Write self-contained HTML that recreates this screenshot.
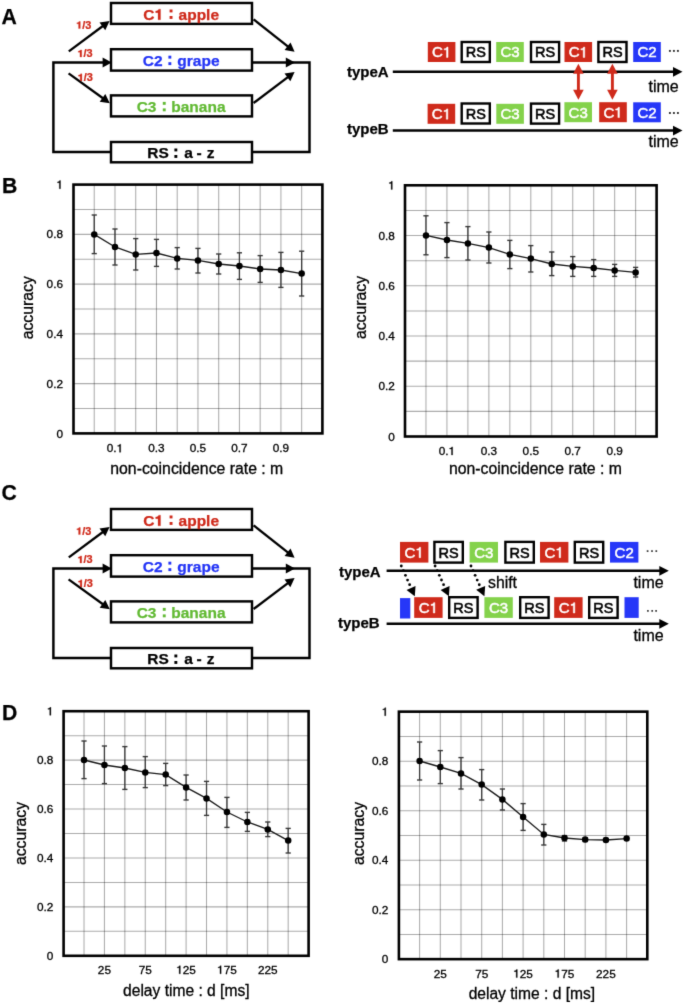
<!DOCTYPE html>
<html><head><meta charset="utf-8"><style>
html,body{margin:0;padding:0;background:#fff;}
svg{display:block;font-family:"Liberation Sans", sans-serif;will-change:transform;}
.wrap{width:685px;height:1004px;}
</style></head><body><div class="wrap">
<svg width="685" height="1004" viewBox="0 0 685 1004">
<defs><filter id="sb" color-interpolation-filters="sRGB" x="0" y="0" width="685" height="1004" filterUnits="userSpaceOnUse"><feConvolveMatrix order="3" kernelMatrix="0.01134 0.08382 0.01134 0.08382 0.61935 0.08382 0.01134 0.08382 0.01134" divisor="1" edgeMode="duplicate" preserveAlpha="false"/></filter></defs>
<rect width="685" height="1004" fill="#fff"/><g filter="url(#sb)">
<text x="1.5" y="24.3" font-weight="bold" font-size="21.2" fill="#000" stroke="#000" stroke-width="0.25">A</text>
<text x="1.9" y="193.4" font-weight="bold" font-size="21.2" fill="#000" stroke="#000" stroke-width="0.25">B</text>
<text x="1.6" y="500.1" font-weight="bold" font-size="21.2" fill="#000" stroke="#000" stroke-width="0.25">C</text>
<text x="1.9" y="719.5" font-weight="bold" font-size="21.2" fill="#000" stroke="#000" stroke-width="0.25">D</text>
<polyline points="111,151.9 53.4,151.9 53.4,62.5 106,62.5" fill="none" stroke="#000" stroke-width="2.45"/>
<polygon points="111.80,62.50 102.60,67.60 102.60,57.40" fill="#000"/>
<polyline points="252,62.5 309.5,62.5 309.5,151.9 252,151.9" fill="none" stroke="#000" stroke-width="2.45"/>
<polygon points="295.00,62.50 285.80,67.60 285.80,57.40" fill="#000"/>
<line x1="68.80" y1="51.40" x2="104.55" y2="24.76" stroke="#000" stroke-width="2.3"/><polygon points="109.60,21.00 105.25,30.23 99.52,22.53" fill="#000"/>
<line x1="68.60" y1="73.40" x2="104.70" y2="99.51" stroke="#000" stroke-width="2.3"/><polygon points="109.80,103.20 99.69,101.81 105.32,94.04" fill="#000"/>
<line x1="253.60" y1="19.40" x2="289.66" y2="47.89" stroke="#000" stroke-width="2.3"/><polygon points="294.60,51.80 284.56,49.99 290.51,42.45" fill="#000"/>
<line x1="253.60" y1="103.00" x2="289.57" y2="75.80" stroke="#000" stroke-width="2.3"/><polygon points="294.60,72.00 290.32,81.26 284.53,73.60" fill="#000"/>
<rect x="111" y="3.0" width="141" height="20.9" fill="#fff" stroke="#000" stroke-width="2.45"/>
<text x="143.36" y="19.80" font-size="15.5" font-weight="bold" fill="#cf2a1b" stroke="#cf2a1b" stroke-width="0.25">C</text><polygon points="158.05,19.80 160.53,19.80 160.53,9.14 158.74,9.14 158.36,10.04 157.50,10.58 156.42,10.89 155.64,10.97 155.64,12.67 158.05,12.67" fill="#cf2a1b" stroke="#cf2a1b" stroke-width="0.25" stroke-linejoin="round"/>
<text x="178.55" y="19.8" font-weight="bold" font-size="15.5" fill="#cf2a1b" stroke="#cf2a1b" stroke-width="0.25">apple</text>
<rect x="169.6" y="9.5" width="2.9" height="2.9" fill="#cf2a1b"/>
<rect x="169.6" y="16.0" width="2.9" height="2.9" fill="#cf2a1b"/>
<rect x="111" y="49.2" width="141" height="21.4" fill="#fff" stroke="#000" stroke-width="2.45"/>
<text x="142.86" y="65.5" font-weight="bold" font-size="15.5" fill="#2435f6" stroke="#2435f6" stroke-width="0.25">C2</text>
<text x="177.36" y="65.5" font-weight="bold" font-size="15.5" fill="#2435f6" stroke="#2435f6" stroke-width="0.25">grape</text>
<rect x="168.4" y="55.7" width="2.9" height="2.9" fill="#2435f6"/>
<rect x="168.4" y="62.2" width="2.9" height="2.9" fill="#2435f6"/>
<rect x="111" y="95.4" width="141" height="21.0" fill="#fff" stroke="#000" stroke-width="2.45"/>
<text x="136.66" y="111.5" font-weight="bold" font-size="15.5" fill="#62ba34" stroke="#62ba34" stroke-width="0.25">C3</text>
<text x="171.28" y="111.5" font-weight="bold" font-size="15.5" fill="#62ba34" stroke="#62ba34" stroke-width="0.25">banana</text>
<rect x="162.8" y="101.9" width="2.9" height="2.9" fill="#62ba34"/>
<rect x="162.8" y="108.4" width="2.9" height="2.9" fill="#62ba34"/>
<rect x="111" y="142.0" width="141" height="20.3" fill="#fff" stroke="#000" stroke-width="2.45"/>
<text x="147.36" y="158.3" font-weight="bold" font-size="15.5" fill="#000" stroke="#000" stroke-width="0.25">RS</text>
<text x="184.15" y="158.3" font-weight="bold" font-size="15.5" fill="#000" stroke="#000" stroke-width="0.25">a</text>
<text x="196.40" y="158.3" font-weight="bold" font-size="15.5" fill="#000" stroke="#000" stroke-width="0.25">-</text>
<text x="206.68" y="158.3" font-weight="bold" font-size="15.5" fill="#000" stroke="#000" stroke-width="0.25">z</text>
<rect x="174.4" y="148.5" width="2.9" height="2.9" fill="#000"/>
<rect x="174.4" y="155.0" width="2.9" height="2.9" fill="#000"/>
<g transform="translate(76.10,28.60) scale(1.063,1)"><polygon points="2.32,0.00 3.97,0.00 3.97,-7.09 2.78,-7.09 2.52,-6.49 1.96,-6.13 1.24,-5.92 0.72,-5.87 0.72,-4.74 2.32,-4.74" fill="#cf2a1b" stroke="#cf2a1b" stroke-width="0.25" stroke-linejoin="round"/><text x="5.73" y="0.00" font-size="10.3" font-weight="bold" fill="#cf2a1b" stroke="#cf2a1b" stroke-width="0.25">/3</text></g>
<g transform="translate(77.50,57.00) scale(1.063,1)"><polygon points="2.32,0.00 3.97,0.00 3.97,-7.09 2.78,-7.09 2.52,-6.49 1.96,-6.13 1.24,-5.92 0.72,-5.87 0.72,-4.74 2.32,-4.74" fill="#cf2a1b" stroke="#cf2a1b" stroke-width="0.25" stroke-linejoin="round"/><text x="5.73" y="0.00" font-size="10.3" font-weight="bold" fill="#cf2a1b" stroke="#cf2a1b" stroke-width="0.25">/3</text></g>
<g transform="translate(77.70,80.90) scale(1.063,1)"><polygon points="2.32,0.00 3.97,0.00 3.97,-7.09 2.78,-7.09 2.52,-6.49 1.96,-6.13 1.24,-5.92 0.72,-5.87 0.72,-4.74 2.32,-4.74" fill="#cf2a1b" stroke="#cf2a1b" stroke-width="0.25" stroke-linejoin="round"/><text x="5.73" y="0.00" font-size="10.3" font-weight="bold" fill="#cf2a1b" stroke="#cf2a1b" stroke-width="0.25">/3</text></g>
<polyline points="111,657.9 53.4,657.9 53.4,568.5 106,568.5" fill="none" stroke="#000" stroke-width="2.45"/>
<polygon points="111.80,568.50 102.60,573.60 102.60,563.40" fill="#000"/>
<polyline points="252,568.5 309.5,568.5 309.5,657.9 252,657.9" fill="none" stroke="#000" stroke-width="2.45"/>
<polygon points="295.00,568.50 285.80,573.60 285.80,563.40" fill="#000"/>
<line x1="68.80" y1="557.40" x2="104.55" y2="530.76" stroke="#000" stroke-width="2.3"/><polygon points="109.60,527.00 105.25,536.23 99.52,528.53" fill="#000"/>
<line x1="68.60" y1="579.40" x2="104.70" y2="605.51" stroke="#000" stroke-width="2.3"/><polygon points="109.80,609.20 99.69,607.81 105.32,600.04" fill="#000"/>
<line x1="253.60" y1="525.40" x2="289.66" y2="553.89" stroke="#000" stroke-width="2.3"/><polygon points="294.60,557.80 284.56,555.99 290.51,548.45" fill="#000"/>
<line x1="253.60" y1="609.00" x2="289.57" y2="581.80" stroke="#000" stroke-width="2.3"/><polygon points="294.60,578.00 290.32,587.26 284.53,579.60" fill="#000"/>
<rect x="111" y="509.0" width="141" height="20.9" fill="#fff" stroke="#000" stroke-width="2.45"/>
<text x="143.36" y="525.80" font-size="15.5" font-weight="bold" fill="#cf2a1b" stroke="#cf2a1b" stroke-width="0.25">C</text><polygon points="158.05,525.80 160.53,525.80 160.53,515.14 158.74,515.14 158.36,516.03 157.50,516.58 156.42,516.89 155.64,516.96 155.64,518.67 158.05,518.67" fill="#cf2a1b" stroke="#cf2a1b" stroke-width="0.25" stroke-linejoin="round"/>
<text x="178.55" y="525.8" font-weight="bold" font-size="15.5" fill="#cf2a1b" stroke="#cf2a1b" stroke-width="0.25">apple</text>
<rect x="169.6" y="515.5" width="2.9" height="2.9" fill="#cf2a1b"/>
<rect x="169.6" y="522.0" width="2.9" height="2.9" fill="#cf2a1b"/>
<rect x="111" y="555.2" width="141" height="21.4" fill="#fff" stroke="#000" stroke-width="2.45"/>
<text x="142.86" y="571.5" font-weight="bold" font-size="15.5" fill="#2435f6" stroke="#2435f6" stroke-width="0.25">C2</text>
<text x="177.36" y="571.5" font-weight="bold" font-size="15.5" fill="#2435f6" stroke="#2435f6" stroke-width="0.25">grape</text>
<rect x="168.4" y="561.7" width="2.9" height="2.9" fill="#2435f6"/>
<rect x="168.4" y="568.2" width="2.9" height="2.9" fill="#2435f6"/>
<rect x="111" y="601.4" width="141" height="21.0" fill="#fff" stroke="#000" stroke-width="2.45"/>
<text x="136.66" y="617.5" font-weight="bold" font-size="15.5" fill="#62ba34" stroke="#62ba34" stroke-width="0.25">C3</text>
<text x="171.28" y="617.5" font-weight="bold" font-size="15.5" fill="#62ba34" stroke="#62ba34" stroke-width="0.25">banana</text>
<rect x="162.8" y="607.9" width="2.9" height="2.9" fill="#62ba34"/>
<rect x="162.8" y="614.4" width="2.9" height="2.9" fill="#62ba34"/>
<rect x="111" y="648.0" width="141" height="20.3" fill="#fff" stroke="#000" stroke-width="2.45"/>
<text x="147.36" y="664.3" font-weight="bold" font-size="15.5" fill="#000" stroke="#000" stroke-width="0.25">RS</text>
<text x="184.15" y="664.3" font-weight="bold" font-size="15.5" fill="#000" stroke="#000" stroke-width="0.25">a</text>
<text x="196.40" y="664.3" font-weight="bold" font-size="15.5" fill="#000" stroke="#000" stroke-width="0.25">-</text>
<text x="206.68" y="664.3" font-weight="bold" font-size="15.5" fill="#000" stroke="#000" stroke-width="0.25">z</text>
<rect x="174.4" y="654.5" width="2.9" height="2.9" fill="#000"/>
<rect x="174.4" y="661.0" width="2.9" height="2.9" fill="#000"/>
<g transform="translate(76.10,534.60) scale(1.063,1)"><polygon points="2.32,0.00 3.97,0.00 3.97,-7.09 2.78,-7.09 2.52,-6.49 1.96,-6.13 1.24,-5.92 0.72,-5.87 0.72,-4.74 2.32,-4.74" fill="#cf2a1b" stroke="#cf2a1b" stroke-width="0.25" stroke-linejoin="round"/><text x="5.73" y="0.00" font-size="10.3" font-weight="bold" fill="#cf2a1b" stroke="#cf2a1b" stroke-width="0.25">/3</text></g>
<g transform="translate(77.50,563.00) scale(1.063,1)"><polygon points="2.32,0.00 3.97,0.00 3.97,-7.09 2.78,-7.09 2.52,-6.49 1.96,-6.13 1.24,-5.92 0.72,-5.87 0.72,-4.74 2.32,-4.74" fill="#cf2a1b" stroke="#cf2a1b" stroke-width="0.25" stroke-linejoin="round"/><text x="5.73" y="0.00" font-size="10.3" font-weight="bold" fill="#cf2a1b" stroke="#cf2a1b" stroke-width="0.25">/3</text></g>
<g transform="translate(77.70,586.90) scale(1.063,1)"><polygon points="2.32,0.00 3.97,0.00 3.97,-7.09 2.78,-7.09 2.52,-6.49 1.96,-6.13 1.24,-5.92 0.72,-5.87 0.72,-4.74 2.32,-4.74" fill="#cf2a1b" stroke="#cf2a1b" stroke-width="0.25" stroke-linejoin="round"/><text x="5.73" y="0.00" font-size="10.3" font-weight="bold" fill="#cf2a1b" stroke="#cf2a1b" stroke-width="0.25">/3</text></g>
<rect x="427.8" y="42" width="27.6" height="20" fill="#cf2a1b"/><text x="432.01" y="57.40" font-size="15" fill="#fff" stroke="#fff" stroke-width="0.5">C</text><polygon points="446.52,57.40 448.02,57.40 448.02,47.08 446.90,47.08 446.60,47.80 445.85,48.40 444.95,48.70 444.20,48.77 444.20,49.82 446.52,49.82" fill="#fff" stroke="#fff" stroke-width="0.5" stroke-linejoin="round"/>
<rect x="461.7" y="42" width="28.1" height="20" fill="#fff" stroke="#000" stroke-width="2.4"/><text x="475.8" y="57.2" text-anchor="middle" font-size="14.5" fill="#000" stroke="#000" stroke-width="0.55">RS</text>
<rect x="496.2" y="42" width="27.6" height="20" fill="#84d24b"/><text x="500.41" y="57.40" font-size="15" fill="#fff" stroke="#fff" stroke-width="0.5">C3</text>
<rect x="531.0" y="42" width="28.1" height="20" fill="#fff" stroke="#000" stroke-width="2.4"/><text x="545.0" y="57.2" text-anchor="middle" font-size="14.5" fill="#000" stroke="#000" stroke-width="0.55">RS</text>
<rect x="564.5" y="42" width="27.6" height="20" fill="#cf2a1b"/><text x="568.71" y="57.40" font-size="15" fill="#fff" stroke="#fff" stroke-width="0.5">C</text><polygon points="583.22,57.40 584.72,57.40 584.72,47.08 583.60,47.08 583.30,47.80 582.55,48.40 581.65,48.70 580.90,48.77 580.90,49.82 583.22,49.82" fill="#fff" stroke="#fff" stroke-width="0.5" stroke-linejoin="round"/>
<rect x="598.4000000000001" y="42" width="28.1" height="20" fill="#fff" stroke="#000" stroke-width="2.4"/><text x="612.5" y="57.2" text-anchor="middle" font-size="14.5" fill="#000" stroke="#000" stroke-width="0.55">RS</text>
<rect x="633.2" y="42" width="27.6" height="20" fill="#2637f8"/><text x="637.41" y="57.40" font-size="15" fill="#fff" stroke="#fff" stroke-width="0.5">C2</text>
<rect x="668.95" y="49.95" width="1.9" height="1.9" fill="#333"/><rect x="672.95" y="49.95" width="1.9" height="1.9" fill="#333"/><rect x="676.95" y="49.95" width="1.9" height="1.9" fill="#333"/>
<line x1="392.8" y1="71.8" x2="676.5" y2="71.8" stroke="#000" stroke-width="2.5"/><polygon points="682.50,71.80 673.00,76.70 673.00,66.90" fill="#000"/>
<text x="648.5" y="91.9" font-size="16" fill="#000" stroke="#000" stroke-width="0.3">time</text>
<text x="347" y="76.6" font-weight="bold" font-size="15" fill="#000" stroke="#000" stroke-width="0.25">typeA</text>
<rect x="427.6" y="103.8" width="27.6" height="20" fill="#cf2a1b"/><text x="431.81" y="119.20" font-size="15" fill="#fff" stroke="#fff" stroke-width="0.5">C</text><polygon points="446.32,119.20 447.82,119.20 447.82,108.88 446.70,108.88 446.40,109.60 445.65,110.20 444.75,110.50 444.00,110.58 444.00,111.62 446.32,111.62" fill="#fff" stroke="#fff" stroke-width="0.5" stroke-linejoin="round"/>
<rect x="461.7" y="103.5" width="28.1" height="20" fill="#fff" stroke="#000" stroke-width="2.4"/><text x="475.8" y="118.7" text-anchor="middle" font-size="14.5" fill="#000" stroke="#000" stroke-width="0.55">RS</text>
<rect x="496.3" y="103.8" width="27.6" height="20" fill="#84d24b"/><text x="500.51" y="119.20" font-size="15" fill="#fff" stroke="#fff" stroke-width="0.5">C3</text>
<rect x="531.0" y="103.6" width="28.1" height="20" fill="#fff" stroke="#000" stroke-width="2.4"/><text x="545.0" y="118.8" text-anchor="middle" font-size="14.5" fill="#000" stroke="#000" stroke-width="0.55">RS</text>
<rect x="564.4" y="102.2" width="27.6" height="20" fill="#84d24b"/><text x="568.61" y="117.60" font-size="15" fill="#fff" stroke="#fff" stroke-width="0.5">C3</text>
<rect x="599.2" y="102.2" width="27.6" height="20" fill="#cf2a1b"/><text x="603.41" y="117.60" font-size="15" fill="#fff" stroke="#fff" stroke-width="0.5">C</text><polygon points="617.92,117.60 619.42,117.60 619.42,107.28 618.30,107.28 618.00,108.00 617.25,108.60 616.35,108.90 615.60,108.98 615.60,110.03 617.92,110.03" fill="#fff" stroke="#fff" stroke-width="0.5" stroke-linejoin="round"/>
<rect x="633.2" y="102.3" width="27.6" height="20" fill="#2637f8"/><text x="637.41" y="117.70" font-size="15" fill="#fff" stroke="#fff" stroke-width="0.5">C2</text>
<rect x="668.95" y="112.05" width="1.9" height="1.9" fill="#333"/><rect x="672.95" y="112.05" width="1.9" height="1.9" fill="#333"/><rect x="676.95" y="112.05" width="1.9" height="1.9" fill="#333"/>
<line x1="392.8" y1="130.6" x2="676.5" y2="130.6" stroke="#000" stroke-width="2.5"/><polygon points="682.50,130.60 673.00,135.50 673.00,125.70" fill="#000"/>
<text x="648.5" y="146.6" font-size="16" fill="#000" stroke="#000" stroke-width="0.3">time</text>
<text x="347" y="134.4" font-weight="bold" font-size="15" fill="#000" stroke="#000" stroke-width="0.25">typeB</text>
<line x1="578.4" y1="72" x2="578.4" y2="92" stroke="#cf2a1b" stroke-width="2.9"/>
<polygon points="578.40,63.80 583.70,73.80 573.10,73.80" fill="#cf2a1b"/>
<polygon points="578.40,99.70 573.10,89.70 583.70,89.70" fill="#cf2a1b"/>
<line x1="612.4" y1="72" x2="612.4" y2="92" stroke="#cf2a1b" stroke-width="2.9"/>
<polygon points="612.40,63.80 617.70,73.80 607.10,73.80" fill="#cf2a1b"/>
<polygon points="612.40,99.70 607.10,89.70 617.70,89.70" fill="#cf2a1b"/>
<rect x="400" y="541.9" width="28.4" height="20.7" fill="#cf2a1b"/><text x="404.61" y="557.65" font-size="15" fill="#fff" stroke="#fff" stroke-width="0.5">C</text><polygon points="419.12,557.65 420.62,557.65 420.62,547.33 419.50,547.33 419.20,548.05 418.45,548.65 417.55,548.95 416.80,549.02 416.80,550.07 419.12,550.07" fill="#fff" stroke="#fff" stroke-width="0.5" stroke-linejoin="round"/>
<rect x="434.4" y="541.9" width="28.400000000000002" height="20.7" fill="#fff" stroke="#000" stroke-width="2.4"/><text x="448.6" y="557.5" text-anchor="middle" font-size="14.5" fill="#000" stroke="#000" stroke-width="0.55">RS</text>
<rect x="469.6" y="541.9" width="28.4" height="20.7" fill="#84d24b"/><text x="474.21" y="557.65" font-size="15" fill="#fff" stroke="#fff" stroke-width="0.5">C3</text>
<rect x="505.4" y="541.9" width="28.400000000000002" height="20.7" fill="#fff" stroke="#000" stroke-width="2.4"/><text x="519.6" y="557.5" text-anchor="middle" font-size="14.5" fill="#000" stroke="#000" stroke-width="0.55">RS</text>
<rect x="540" y="541.9" width="28.4" height="20.7" fill="#cf2a1b"/><text x="544.61" y="557.65" font-size="15" fill="#fff" stroke="#fff" stroke-width="0.5">C</text><polygon points="559.12,557.65 560.62,557.65 560.62,547.33 559.50,547.33 559.20,548.05 558.45,548.65 557.55,548.95 556.80,549.02 556.80,550.07 559.12,550.07" fill="#fff" stroke="#fff" stroke-width="0.5" stroke-linejoin="round"/>
<rect x="574.8000000000001" y="541.9" width="28.400000000000002" height="20.7" fill="#fff" stroke="#000" stroke-width="2.4"/><text x="589.0" y="557.5" text-anchor="middle" font-size="14.5" fill="#000" stroke="#000" stroke-width="0.55">RS</text>
<rect x="610" y="541.9" width="28.4" height="20.7" fill="#2637f8"/><text x="614.61" y="557.65" font-size="15" fill="#fff" stroke="#fff" stroke-width="0.5">C2</text>
<rect x="646.75" y="550.25" width="1.7" height="1.7" fill="#333"/><rect x="651.15" y="550.25" width="1.7" height="1.7" fill="#333"/><rect x="655.45" y="550.25" width="1.7" height="1.7" fill="#333"/>
<line x1="386.6" y1="570.8" x2="662.8" y2="570.8" stroke="#000" stroke-width="2.5"/><polygon points="668.80,570.80 659.30,575.70 659.30,565.90" fill="#000"/>
<text x="633.4" y="587.8" font-size="16" fill="#000" stroke="#000" stroke-width="0.3">time</text>
<text x="339" y="576.9" font-weight="bold" font-size="15" fill="#000" stroke="#000" stroke-width="0.25">typeA</text>
<rect x="400" y="598.1" width="10.3" height="20.4" fill="#2637f8"/>
<rect x="414.2" y="597.2" width="28.4" height="20.7" fill="#cf2a1b"/><text x="418.81" y="612.95" font-size="15" fill="#fff" stroke="#fff" stroke-width="0.5">C</text><polygon points="433.32,612.95 434.82,612.95 434.82,602.63 433.70,602.63 433.40,603.35 432.65,603.95 431.75,604.25 431.00,604.33 431.00,605.38 433.32,605.38" fill="#fff" stroke="#fff" stroke-width="0.5" stroke-linejoin="round"/>
<rect x="449.2" y="597.2" width="28.400000000000002" height="20.7" fill="#fff" stroke="#000" stroke-width="2.4"/><text x="463.4" y="612.8" text-anchor="middle" font-size="14.5" fill="#000" stroke="#000" stroke-width="0.55">RS</text>
<rect x="484.4" y="597.2" width="28.4" height="20.7" fill="#84d24b"/><text x="489.01" y="612.95" font-size="15" fill="#fff" stroke="#fff" stroke-width="0.5">C3</text>
<rect x="520.2" y="597.2" width="28.400000000000002" height="20.7" fill="#fff" stroke="#000" stroke-width="2.4"/><text x="534.4" y="612.8" text-anchor="middle" font-size="14.5" fill="#000" stroke="#000" stroke-width="0.55">RS</text>
<rect x="554.2" y="597.2" width="28.4" height="20.7" fill="#cf2a1b"/><text x="558.81" y="612.95" font-size="15" fill="#fff" stroke="#fff" stroke-width="0.5">C</text><polygon points="573.32,612.95 574.82,612.95 574.82,602.63 573.70,602.63 573.40,603.35 572.65,603.95 571.75,604.25 571.00,604.33 571.00,605.38 573.32,605.38" fill="#fff" stroke="#fff" stroke-width="0.5" stroke-linejoin="round"/>
<rect x="589.2" y="597.2" width="28.400000000000002" height="20.7" fill="#fff" stroke="#000" stroke-width="2.4"/><text x="603.4" y="612.8" text-anchor="middle" font-size="14.5" fill="#000" stroke="#000" stroke-width="0.55">RS</text>
<rect x="624.5" y="597.2" width="14.2" height="20.7" fill="#2637f8"/>
<rect x="647.05" y="610.05" width="1.7" height="1.7" fill="#333"/><rect x="651.35" y="610.05" width="1.7" height="1.7" fill="#333"/><rect x="655.25" y="610.05" width="1.7" height="1.7" fill="#333"/>
<line x1="386.6" y1="623.8" x2="662.8" y2="623.8" stroke="#000" stroke-width="2.5"/><polygon points="668.80,623.80 659.30,628.70 659.30,618.90" fill="#000"/>
<text x="633.4" y="640.7" font-size="16" fill="#000" stroke="#000" stroke-width="0.3">time</text>
<text x="338" y="628" font-weight="bold" font-size="15" fill="#000" stroke="#000" stroke-width="0.25">typeB</text>
<circle cx="401.30" cy="566.00" r="1.4" fill="#000"/>
<circle cx="403.38" cy="570.68" r="1.4" fill="#000"/>
<circle cx="405.47" cy="575.35" r="1.4" fill="#000"/>
<circle cx="407.55" cy="580.03" r="1.4" fill="#000"/>
<circle cx="409.63" cy="584.71" r="1.4" fill="#000"/>
<polygon points="414.80,596.30 406.58,589.89 415.53,585.90" fill="#000"/>
<circle cx="435.10" cy="566.00" r="1.4" fill="#000"/>
<circle cx="437.22" cy="570.66" r="1.4" fill="#000"/>
<circle cx="439.34" cy="575.32" r="1.4" fill="#000"/>
<circle cx="441.47" cy="579.98" r="1.4" fill="#000"/>
<circle cx="443.59" cy="584.64" r="1.4" fill="#000"/>
<polygon points="448.90,596.30 440.63,589.96 449.55,585.90" fill="#000"/>
<circle cx="471.00" cy="566.00" r="1.4" fill="#000"/>
<circle cx="473.07" cy="570.68" r="1.4" fill="#000"/>
<circle cx="475.14" cy="575.37" r="1.4" fill="#000"/>
<circle cx="477.21" cy="580.05" r="1.4" fill="#000"/>
<circle cx="479.28" cy="584.73" r="1.4" fill="#000"/>
<polygon points="484.40,596.30 476.20,589.87 485.16,585.90" fill="#000"/>
<text x="488" y="588" font-size="15.8" fill="#000" stroke="#000" stroke-width="0.3">shift</text>
<line x1="94.24" y1="184.6" x2="94.24" y2="433.4" stroke="#000" stroke-opacity="0.33" stroke-width="1.05"/>
<line x1="114.98" y1="184.6" x2="114.98" y2="433.4" stroke="#000" stroke-opacity="0.33" stroke-width="1.05"/>
<line x1="135.72" y1="184.6" x2="135.72" y2="433.4" stroke="#000" stroke-opacity="0.33" stroke-width="1.05"/>
<line x1="156.47" y1="184.6" x2="156.47" y2="433.4" stroke="#000" stroke-opacity="0.33" stroke-width="1.05"/>
<line x1="177.21" y1="184.6" x2="177.21" y2="433.4" stroke="#000" stroke-opacity="0.33" stroke-width="1.05"/>
<line x1="197.95" y1="184.6" x2="197.95" y2="433.4" stroke="#000" stroke-opacity="0.33" stroke-width="1.05"/>
<line x1="218.69" y1="184.6" x2="218.69" y2="433.4" stroke="#000" stroke-opacity="0.33" stroke-width="1.05"/>
<line x1="239.43" y1="184.6" x2="239.43" y2="433.4" stroke="#000" stroke-opacity="0.33" stroke-width="1.05"/>
<line x1="260.17" y1="184.6" x2="260.17" y2="433.4" stroke="#000" stroke-opacity="0.33" stroke-width="1.05"/>
<line x1="280.92" y1="184.6" x2="280.92" y2="433.4" stroke="#000" stroke-opacity="0.33" stroke-width="1.05"/>
<line x1="301.66" y1="184.6" x2="301.66" y2="433.4" stroke="#000" stroke-opacity="0.33" stroke-width="1.05"/>
<line x1="73.5" y1="209.48" x2="322.4" y2="209.48" stroke="#000" stroke-opacity="0.33" stroke-width="1.05"/>
<line x1="73.5" y1="234.36" x2="322.4" y2="234.36" stroke="#000" stroke-opacity="0.33" stroke-width="1.05"/>
<line x1="73.5" y1="259.24" x2="322.4" y2="259.24" stroke="#000" stroke-opacity="0.33" stroke-width="1.05"/>
<line x1="73.5" y1="284.12" x2="322.4" y2="284.12" stroke="#000" stroke-opacity="0.33" stroke-width="1.05"/>
<line x1="73.5" y1="309.00" x2="322.4" y2="309.00" stroke="#000" stroke-opacity="0.33" stroke-width="1.05"/>
<line x1="73.5" y1="333.88" x2="322.4" y2="333.88" stroke="#000" stroke-opacity="0.33" stroke-width="1.05"/>
<line x1="73.5" y1="358.76" x2="322.4" y2="358.76" stroke="#000" stroke-opacity="0.33" stroke-width="1.05"/>
<line x1="73.5" y1="383.64" x2="322.4" y2="383.64" stroke="#000" stroke-opacity="0.33" stroke-width="1.05"/>
<line x1="73.5" y1="408.52" x2="322.4" y2="408.52" stroke="#000" stroke-opacity="0.33" stroke-width="1.05"/>
<line x1="94.24" y1="215" x2="94.24" y2="253.6" stroke="#383838" stroke-width="1.3"/>
<line x1="91.64" y1="215" x2="96.84" y2="215" stroke="#383838" stroke-width="1.4"/>
<line x1="91.64" y1="253.6" x2="96.84" y2="253.6" stroke="#383838" stroke-width="1.4"/>
<line x1="114.98" y1="229" x2="114.98" y2="265" stroke="#383838" stroke-width="1.3"/>
<line x1="112.38" y1="229" x2="117.58" y2="229" stroke="#383838" stroke-width="1.4"/>
<line x1="112.38" y1="265" x2="117.58" y2="265" stroke="#383838" stroke-width="1.4"/>
<line x1="135.72" y1="238.6" x2="135.72" y2="270" stroke="#383838" stroke-width="1.3"/>
<line x1="133.12" y1="238.6" x2="138.32" y2="238.6" stroke="#383838" stroke-width="1.4"/>
<line x1="133.12" y1="270" x2="138.32" y2="270" stroke="#383838" stroke-width="1.4"/>
<line x1="156.47" y1="239.4" x2="156.47" y2="266.4" stroke="#383838" stroke-width="1.3"/>
<line x1="153.87" y1="239.4" x2="159.07" y2="239.4" stroke="#383838" stroke-width="1.4"/>
<line x1="153.87" y1="266.4" x2="159.07" y2="266.4" stroke="#383838" stroke-width="1.4"/>
<line x1="177.21" y1="247.6" x2="177.21" y2="269" stroke="#383838" stroke-width="1.3"/>
<line x1="174.61" y1="247.6" x2="179.81" y2="247.6" stroke="#383838" stroke-width="1.4"/>
<line x1="174.61" y1="269" x2="179.81" y2="269" stroke="#383838" stroke-width="1.4"/>
<line x1="197.95" y1="248.4" x2="197.95" y2="273" stroke="#383838" stroke-width="1.3"/>
<line x1="195.35" y1="248.4" x2="200.55" y2="248.4" stroke="#383838" stroke-width="1.4"/>
<line x1="195.35" y1="273" x2="200.55" y2="273" stroke="#383838" stroke-width="1.4"/>
<line x1="218.69" y1="254" x2="218.69" y2="274" stroke="#383838" stroke-width="1.3"/>
<line x1="216.09" y1="254" x2="221.29" y2="254" stroke="#383838" stroke-width="1.4"/>
<line x1="216.09" y1="274" x2="221.29" y2="274" stroke="#383838" stroke-width="1.4"/>
<line x1="239.43" y1="252.8" x2="239.43" y2="279.4" stroke="#383838" stroke-width="1.3"/>
<line x1="236.83" y1="252.8" x2="242.03" y2="252.8" stroke="#383838" stroke-width="1.4"/>
<line x1="236.83" y1="279.4" x2="242.03" y2="279.4" stroke="#383838" stroke-width="1.4"/>
<line x1="260.17" y1="255.6" x2="260.17" y2="282.4" stroke="#383838" stroke-width="1.3"/>
<line x1="257.57" y1="255.6" x2="262.77" y2="255.6" stroke="#383838" stroke-width="1.4"/>
<line x1="257.57" y1="282.4" x2="262.77" y2="282.4" stroke="#383838" stroke-width="1.4"/>
<line x1="280.92" y1="252.4" x2="280.92" y2="287.4" stroke="#383838" stroke-width="1.3"/>
<line x1="278.32" y1="252.4" x2="283.52" y2="252.4" stroke="#383838" stroke-width="1.4"/>
<line x1="278.32" y1="287.4" x2="283.52" y2="287.4" stroke="#383838" stroke-width="1.4"/>
<line x1="301.66" y1="251.2" x2="301.66" y2="296" stroke="#383838" stroke-width="1.3"/>
<line x1="299.06" y1="251.2" x2="304.26" y2="251.2" stroke="#383838" stroke-width="1.4"/>
<line x1="299.06" y1="296" x2="304.26" y2="296" stroke="#383838" stroke-width="1.4"/>
<polyline points="94.24,234.40 114.98,247.00 135.72,254.40 156.47,253.00 177.21,258.40 197.95,260.40 218.69,264.00 239.43,266.00 260.17,269.00 280.92,270.00 301.66,273.60" fill="none" stroke="#1a1a1a" stroke-width="1.35"/>
<circle cx="94.24" cy="234.4" r="3.25" fill="#000"/>
<circle cx="114.98" cy="247" r="3.25" fill="#000"/>
<circle cx="135.72" cy="254.4" r="3.25" fill="#000"/>
<circle cx="156.47" cy="253" r="3.25" fill="#000"/>
<circle cx="177.21" cy="258.4" r="3.25" fill="#000"/>
<circle cx="197.95" cy="260.4" r="3.25" fill="#000"/>
<circle cx="218.69" cy="264" r="3.25" fill="#000"/>
<circle cx="239.43" cy="266" r="3.25" fill="#000"/>
<circle cx="260.17" cy="269" r="3.25" fill="#000"/>
<circle cx="280.92" cy="270" r="3.25" fill="#000"/>
<circle cx="301.66" cy="273.6" r="3.25" fill="#000"/>
<rect x="73.5" y="184.6" width="248.90" height="248.80" fill="none" stroke="#000" stroke-width="2.6"/>
<polygon points="59.33,188.70 60.51,188.70 60.51,180.58 59.62,180.58 59.39,181.15 58.80,181.62 58.09,181.86 57.50,181.91 57.50,182.74 59.33,182.74" fill="#000" stroke="#000" stroke-width="0.3" stroke-linejoin="round"/>
<text x="46.60" y="238.46" font-size="11.8" fill="#000" stroke="#000" stroke-width="0.3">0.8</text>
<text x="46.60" y="288.22" font-size="11.8" fill="#000" stroke="#000" stroke-width="0.3">0.6</text>
<text x="46.60" y="337.98" font-size="11.8" fill="#000" stroke="#000" stroke-width="0.3">0.4</text>
<text x="46.60" y="387.74" font-size="11.8" fill="#000" stroke="#000" stroke-width="0.3">0.2</text>
<text x="56.44" y="437.50" font-size="11.8" fill="#000" stroke="#000" stroke-width="0.3">0</text>
<text x="106.78" y="452.30" font-size="11.8" fill="#000" stroke="#000" stroke-width="0.3">0.</text><polygon points="119.51,452.30 120.69,452.30 120.69,444.18 119.81,444.18 119.57,444.75 118.98,445.22 118.27,445.46 117.68,445.51 117.68,446.34 119.51,446.34" fill="#000" stroke="#000" stroke-width="0.3" stroke-linejoin="round"/>
<text x="148.26" y="452.30" font-size="11.8" fill="#000" stroke="#000" stroke-width="0.3">0.3</text>
<text x="189.75" y="452.30" font-size="11.8" fill="#000" stroke="#000" stroke-width="0.3">0.5</text>
<text x="231.23" y="452.30" font-size="11.8" fill="#000" stroke="#000" stroke-width="0.3">0.7</text>
<text x="272.71" y="452.30" font-size="11.8" fill="#000" stroke="#000" stroke-width="0.3">0.9</text>
<text x="196.8" y="474.4" text-anchor="middle" font-size="15.8" fill="#000" stroke="#000" stroke-width="0.3">non-coincidence rate : m</text>
<text transform="translate(33.0,307.7) rotate(-90)" x="0" y="0" text-anchor="middle" font-size="15.8" fill="#000" stroke="#000" stroke-width="0.3">accuracy</text>
<line x1="425.97" y1="185.3" x2="425.97" y2="436.5" stroke="#000" stroke-opacity="0.33" stroke-width="1.05"/>
<line x1="446.93" y1="185.3" x2="446.93" y2="436.5" stroke="#000" stroke-opacity="0.33" stroke-width="1.05"/>
<line x1="467.90" y1="185.3" x2="467.90" y2="436.5" stroke="#000" stroke-opacity="0.33" stroke-width="1.05"/>
<line x1="488.87" y1="185.3" x2="488.87" y2="436.5" stroke="#000" stroke-opacity="0.33" stroke-width="1.05"/>
<line x1="509.83" y1="185.3" x2="509.83" y2="436.5" stroke="#000" stroke-opacity="0.33" stroke-width="1.05"/>
<line x1="530.80" y1="185.3" x2="530.80" y2="436.5" stroke="#000" stroke-opacity="0.33" stroke-width="1.05"/>
<line x1="551.77" y1="185.3" x2="551.77" y2="436.5" stroke="#000" stroke-opacity="0.33" stroke-width="1.05"/>
<line x1="572.73" y1="185.3" x2="572.73" y2="436.5" stroke="#000" stroke-opacity="0.33" stroke-width="1.05"/>
<line x1="593.70" y1="185.3" x2="593.70" y2="436.5" stroke="#000" stroke-opacity="0.33" stroke-width="1.05"/>
<line x1="614.67" y1="185.3" x2="614.67" y2="436.5" stroke="#000" stroke-opacity="0.33" stroke-width="1.05"/>
<line x1="635.63" y1="185.3" x2="635.63" y2="436.5" stroke="#000" stroke-opacity="0.33" stroke-width="1.05"/>
<line x1="405" y1="210.42" x2="656.6" y2="210.42" stroke="#000" stroke-opacity="0.33" stroke-width="1.05"/>
<line x1="405" y1="235.54" x2="656.6" y2="235.54" stroke="#000" stroke-opacity="0.33" stroke-width="1.05"/>
<line x1="405" y1="260.66" x2="656.6" y2="260.66" stroke="#000" stroke-opacity="0.33" stroke-width="1.05"/>
<line x1="405" y1="285.78" x2="656.6" y2="285.78" stroke="#000" stroke-opacity="0.33" stroke-width="1.05"/>
<line x1="405" y1="310.90" x2="656.6" y2="310.90" stroke="#000" stroke-opacity="0.33" stroke-width="1.05"/>
<line x1="405" y1="336.02" x2="656.6" y2="336.02" stroke="#000" stroke-opacity="0.33" stroke-width="1.05"/>
<line x1="405" y1="361.14" x2="656.6" y2="361.14" stroke="#000" stroke-opacity="0.33" stroke-width="1.05"/>
<line x1="405" y1="386.26" x2="656.6" y2="386.26" stroke="#000" stroke-opacity="0.33" stroke-width="1.05"/>
<line x1="405" y1="411.38" x2="656.6" y2="411.38" stroke="#000" stroke-opacity="0.33" stroke-width="1.05"/>
<line x1="425.97" y1="215.8" x2="425.97" y2="254.8" stroke="#383838" stroke-width="1.3"/>
<line x1="423.37" y1="215.8" x2="428.57" y2="215.8" stroke="#383838" stroke-width="1.4"/>
<line x1="423.37" y1="254.8" x2="428.57" y2="254.8" stroke="#383838" stroke-width="1.4"/>
<line x1="446.93" y1="222.6" x2="446.93" y2="257.6" stroke="#383838" stroke-width="1.3"/>
<line x1="444.33" y1="222.6" x2="449.53" y2="222.6" stroke="#383838" stroke-width="1.4"/>
<line x1="444.33" y1="257.6" x2="449.53" y2="257.6" stroke="#383838" stroke-width="1.4"/>
<line x1="467.90" y1="226.6" x2="467.90" y2="260" stroke="#383838" stroke-width="1.3"/>
<line x1="465.30" y1="226.6" x2="470.50" y2="226.6" stroke="#383838" stroke-width="1.4"/>
<line x1="465.30" y1="260" x2="470.50" y2="260" stroke="#383838" stroke-width="1.4"/>
<line x1="488.87" y1="232" x2="488.87" y2="263" stroke="#383838" stroke-width="1.3"/>
<line x1="486.27" y1="232" x2="491.47" y2="232" stroke="#383838" stroke-width="1.4"/>
<line x1="486.27" y1="263" x2="491.47" y2="263" stroke="#383838" stroke-width="1.4"/>
<line x1="509.83" y1="240.4" x2="509.83" y2="268.6" stroke="#383838" stroke-width="1.3"/>
<line x1="507.23" y1="240.4" x2="512.43" y2="240.4" stroke="#383838" stroke-width="1.4"/>
<line x1="507.23" y1="268.6" x2="512.43" y2="268.6" stroke="#383838" stroke-width="1.4"/>
<line x1="530.80" y1="245.6" x2="530.80" y2="272" stroke="#383838" stroke-width="1.3"/>
<line x1="528.20" y1="245.6" x2="533.40" y2="245.6" stroke="#383838" stroke-width="1.4"/>
<line x1="528.20" y1="272" x2="533.40" y2="272" stroke="#383838" stroke-width="1.4"/>
<line x1="551.77" y1="252" x2="551.77" y2="275.6" stroke="#383838" stroke-width="1.3"/>
<line x1="549.17" y1="252" x2="554.37" y2="252" stroke="#383838" stroke-width="1.4"/>
<line x1="549.17" y1="275.6" x2="554.37" y2="275.6" stroke="#383838" stroke-width="1.4"/>
<line x1="572.73" y1="256.6" x2="572.73" y2="276.4" stroke="#383838" stroke-width="1.3"/>
<line x1="570.13" y1="256.6" x2="575.33" y2="256.6" stroke="#383838" stroke-width="1.4"/>
<line x1="570.13" y1="276.4" x2="575.33" y2="276.4" stroke="#383838" stroke-width="1.4"/>
<line x1="593.70" y1="259.6" x2="593.70" y2="276.4" stroke="#383838" stroke-width="1.3"/>
<line x1="591.10" y1="259.6" x2="596.30" y2="259.6" stroke="#383838" stroke-width="1.4"/>
<line x1="591.10" y1="276.4" x2="596.30" y2="276.4" stroke="#383838" stroke-width="1.4"/>
<line x1="614.67" y1="264.4" x2="614.67" y2="276.4" stroke="#383838" stroke-width="1.3"/>
<line x1="612.07" y1="264.4" x2="617.27" y2="264.4" stroke="#383838" stroke-width="1.4"/>
<line x1="612.07" y1="276.4" x2="617.27" y2="276.4" stroke="#383838" stroke-width="1.4"/>
<line x1="635.63" y1="267.4" x2="635.63" y2="277" stroke="#383838" stroke-width="1.3"/>
<line x1="633.03" y1="267.4" x2="638.23" y2="267.4" stroke="#383838" stroke-width="1.4"/>
<line x1="633.03" y1="277" x2="638.23" y2="277" stroke="#383838" stroke-width="1.4"/>
<polyline points="425.97,235.40 446.93,240.00 467.90,243.40 488.87,247.60 509.83,254.40 530.80,258.60 551.77,264.00 572.73,266.40 593.70,268.00 614.67,270.40 635.63,272.40" fill="none" stroke="#1a1a1a" stroke-width="1.35"/>
<circle cx="425.97" cy="235.4" r="3.25" fill="#000"/>
<circle cx="446.93" cy="240" r="3.25" fill="#000"/>
<circle cx="467.90" cy="243.4" r="3.25" fill="#000"/>
<circle cx="488.87" cy="247.6" r="3.25" fill="#000"/>
<circle cx="509.83" cy="254.4" r="3.25" fill="#000"/>
<circle cx="530.80" cy="258.6" r="3.25" fill="#000"/>
<circle cx="551.77" cy="264" r="3.25" fill="#000"/>
<circle cx="572.73" cy="266.4" r="3.25" fill="#000"/>
<circle cx="593.70" cy="268" r="3.25" fill="#000"/>
<circle cx="614.67" cy="270.4" r="3.25" fill="#000"/>
<circle cx="635.63" cy="272.4" r="3.25" fill="#000"/>
<rect x="405" y="185.3" width="251.60" height="251.20" fill="none" stroke="#000" stroke-width="2.6"/>
<polygon points="391.13,189.40 392.31,189.40 392.31,181.28 391.42,181.28 391.19,181.85 390.60,182.32 389.89,182.56 389.30,182.62 389.30,183.44 391.13,183.44" fill="#000" stroke="#000" stroke-width="0.3" stroke-linejoin="round"/>
<text x="378.40" y="239.64" font-size="11.8" fill="#000" stroke="#000" stroke-width="0.3">0.8</text>
<text x="378.40" y="289.88" font-size="11.8" fill="#000" stroke="#000" stroke-width="0.3">0.6</text>
<text x="378.40" y="340.12" font-size="11.8" fill="#000" stroke="#000" stroke-width="0.3">0.4</text>
<text x="378.40" y="390.36" font-size="11.8" fill="#000" stroke="#000" stroke-width="0.3">0.2</text>
<text x="388.24" y="440.60" font-size="11.8" fill="#000" stroke="#000" stroke-width="0.3">0</text>
<text x="438.73" y="455.00" font-size="11.8" fill="#000" stroke="#000" stroke-width="0.3">0.</text><polygon points="451.46,455.00 452.64,455.00 452.64,446.88 451.76,446.88 451.52,447.45 450.93,447.92 450.22,448.16 449.63,448.21 449.63,449.04 451.46,449.04" fill="#000" stroke="#000" stroke-width="0.3" stroke-linejoin="round"/>
<text x="480.66" y="455.00" font-size="11.8" fill="#000" stroke="#000" stroke-width="0.3">0.3</text>
<text x="522.60" y="455.00" font-size="11.8" fill="#000" stroke="#000" stroke-width="0.3">0.5</text>
<text x="564.53" y="455.00" font-size="11.8" fill="#000" stroke="#000" stroke-width="0.3">0.7</text>
<text x="606.46" y="455.00" font-size="11.8" fill="#000" stroke="#000" stroke-width="0.3">0.9</text>
<text x="535.5" y="474.4" text-anchor="middle" font-size="15.8" fill="#000" stroke="#000" stroke-width="0.3">non-coincidence rate : m</text>
<text transform="translate(366,307.5) rotate(-90)" x="0" y="0" text-anchor="middle" font-size="15.8" fill="#000" stroke="#000" stroke-width="0.3">accuracy</text>
<line x1="84.02" y1="711.2" x2="84.02" y2="955.8" stroke="#000" stroke-opacity="0.33" stroke-width="1.05"/>
<line x1="104.43" y1="711.2" x2="104.43" y2="955.8" stroke="#000" stroke-opacity="0.33" stroke-width="1.05"/>
<line x1="124.85" y1="711.2" x2="124.85" y2="955.8" stroke="#000" stroke-opacity="0.33" stroke-width="1.05"/>
<line x1="145.27" y1="711.2" x2="145.27" y2="955.8" stroke="#000" stroke-opacity="0.33" stroke-width="1.05"/>
<line x1="165.68" y1="711.2" x2="165.68" y2="955.8" stroke="#000" stroke-opacity="0.33" stroke-width="1.05"/>
<line x1="186.10" y1="711.2" x2="186.10" y2="955.8" stroke="#000" stroke-opacity="0.33" stroke-width="1.05"/>
<line x1="206.52" y1="711.2" x2="206.52" y2="955.8" stroke="#000" stroke-opacity="0.33" stroke-width="1.05"/>
<line x1="226.93" y1="711.2" x2="226.93" y2="955.8" stroke="#000" stroke-opacity="0.33" stroke-width="1.05"/>
<line x1="247.35" y1="711.2" x2="247.35" y2="955.8" stroke="#000" stroke-opacity="0.33" stroke-width="1.05"/>
<line x1="267.77" y1="711.2" x2="267.77" y2="955.8" stroke="#000" stroke-opacity="0.33" stroke-width="1.05"/>
<line x1="288.18" y1="711.2" x2="288.18" y2="955.8" stroke="#000" stroke-opacity="0.33" stroke-width="1.05"/>
<line x1="63.6" y1="735.66" x2="308.6" y2="735.66" stroke="#000" stroke-opacity="0.33" stroke-width="1.05"/>
<line x1="63.6" y1="760.12" x2="308.6" y2="760.12" stroke="#000" stroke-opacity="0.33" stroke-width="1.05"/>
<line x1="63.6" y1="784.58" x2="308.6" y2="784.58" stroke="#000" stroke-opacity="0.33" stroke-width="1.05"/>
<line x1="63.6" y1="809.04" x2="308.6" y2="809.04" stroke="#000" stroke-opacity="0.33" stroke-width="1.05"/>
<line x1="63.6" y1="833.50" x2="308.6" y2="833.50" stroke="#000" stroke-opacity="0.33" stroke-width="1.05"/>
<line x1="63.6" y1="857.96" x2="308.6" y2="857.96" stroke="#000" stroke-opacity="0.33" stroke-width="1.05"/>
<line x1="63.6" y1="882.42" x2="308.6" y2="882.42" stroke="#000" stroke-opacity="0.33" stroke-width="1.05"/>
<line x1="63.6" y1="906.88" x2="308.6" y2="906.88" stroke="#000" stroke-opacity="0.33" stroke-width="1.05"/>
<line x1="63.6" y1="931.34" x2="308.6" y2="931.34" stroke="#000" stroke-opacity="0.33" stroke-width="1.05"/>
<line x1="84.02" y1="741" x2="84.02" y2="778.6" stroke="#383838" stroke-width="1.3"/>
<line x1="81.42" y1="741" x2="86.62" y2="741" stroke="#383838" stroke-width="1.4"/>
<line x1="81.42" y1="778.6" x2="86.62" y2="778.6" stroke="#383838" stroke-width="1.4"/>
<line x1="104.43" y1="746" x2="104.43" y2="783.6" stroke="#383838" stroke-width="1.3"/>
<line x1="101.83" y1="746" x2="107.03" y2="746" stroke="#383838" stroke-width="1.4"/>
<line x1="101.83" y1="783.6" x2="107.03" y2="783.6" stroke="#383838" stroke-width="1.4"/>
<line x1="124.85" y1="746.6" x2="124.85" y2="789.4" stroke="#383838" stroke-width="1.3"/>
<line x1="122.25" y1="746.6" x2="127.45" y2="746.6" stroke="#383838" stroke-width="1.4"/>
<line x1="122.25" y1="789.4" x2="127.45" y2="789.4" stroke="#383838" stroke-width="1.4"/>
<line x1="145.27" y1="756.6" x2="145.27" y2="787.6" stroke="#383838" stroke-width="1.3"/>
<line x1="142.67" y1="756.6" x2="147.87" y2="756.6" stroke="#383838" stroke-width="1.4"/>
<line x1="142.67" y1="787.6" x2="147.87" y2="787.6" stroke="#383838" stroke-width="1.4"/>
<line x1="165.68" y1="763.4" x2="165.68" y2="785.6" stroke="#383838" stroke-width="1.3"/>
<line x1="163.08" y1="763.4" x2="168.28" y2="763.4" stroke="#383838" stroke-width="1.4"/>
<line x1="163.08" y1="785.6" x2="168.28" y2="785.6" stroke="#383838" stroke-width="1.4"/>
<line x1="186.10" y1="775" x2="186.10" y2="800" stroke="#383838" stroke-width="1.3"/>
<line x1="183.50" y1="775" x2="188.70" y2="775" stroke="#383838" stroke-width="1.4"/>
<line x1="183.50" y1="800" x2="188.70" y2="800" stroke="#383838" stroke-width="1.4"/>
<line x1="206.52" y1="781.4" x2="206.52" y2="815.4" stroke="#383838" stroke-width="1.3"/>
<line x1="203.92" y1="781.4" x2="209.12" y2="781.4" stroke="#383838" stroke-width="1.4"/>
<line x1="203.92" y1="815.4" x2="209.12" y2="815.4" stroke="#383838" stroke-width="1.4"/>
<line x1="226.93" y1="797.4" x2="226.93" y2="827.4" stroke="#383838" stroke-width="1.3"/>
<line x1="224.33" y1="797.4" x2="229.53" y2="797.4" stroke="#383838" stroke-width="1.4"/>
<line x1="224.33" y1="827.4" x2="229.53" y2="827.4" stroke="#383838" stroke-width="1.4"/>
<line x1="247.35" y1="812.4" x2="247.35" y2="831.4" stroke="#383838" stroke-width="1.3"/>
<line x1="244.75" y1="812.4" x2="249.95" y2="812.4" stroke="#383838" stroke-width="1.4"/>
<line x1="244.75" y1="831.4" x2="249.95" y2="831.4" stroke="#383838" stroke-width="1.4"/>
<line x1="267.77" y1="822" x2="267.77" y2="836.6" stroke="#383838" stroke-width="1.3"/>
<line x1="265.17" y1="822" x2="270.37" y2="822" stroke="#383838" stroke-width="1.4"/>
<line x1="265.17" y1="836.6" x2="270.37" y2="836.6" stroke="#383838" stroke-width="1.4"/>
<line x1="288.18" y1="828.4" x2="288.18" y2="853" stroke="#383838" stroke-width="1.3"/>
<line x1="285.58" y1="828.4" x2="290.78" y2="828.4" stroke="#383838" stroke-width="1.4"/>
<line x1="285.58" y1="853" x2="290.78" y2="853" stroke="#383838" stroke-width="1.4"/>
<polyline points="84.02,760.00 104.43,765.00 124.85,768.00 145.27,772.40 165.68,774.60 186.10,787.40 206.52,798.40 226.93,812.00 247.35,822.00 267.77,829.40 288.18,840.60" fill="none" stroke="#1a1a1a" stroke-width="1.35"/>
<circle cx="84.02" cy="760" r="3.25" fill="#000"/>
<circle cx="104.43" cy="765" r="3.25" fill="#000"/>
<circle cx="124.85" cy="768" r="3.25" fill="#000"/>
<circle cx="145.27" cy="772.4" r="3.25" fill="#000"/>
<circle cx="165.68" cy="774.6" r="3.25" fill="#000"/>
<circle cx="186.10" cy="787.4" r="3.25" fill="#000"/>
<circle cx="206.52" cy="798.4" r="3.25" fill="#000"/>
<circle cx="226.93" cy="812" r="3.25" fill="#000"/>
<circle cx="247.35" cy="822" r="3.25" fill="#000"/>
<circle cx="267.77" cy="829.4" r="3.25" fill="#000"/>
<circle cx="288.18" cy="840.6" r="3.25" fill="#000"/>
<rect x="63.6" y="711.2" width="245.00" height="244.60" fill="none" stroke="#000" stroke-width="2.6"/>
<polygon points="49.73,715.30 50.91,715.30 50.91,707.18 50.02,707.18 49.79,707.75 49.20,708.22 48.49,708.46 47.90,708.52 47.90,709.34 49.73,709.34" fill="#000" stroke="#000" stroke-width="0.3" stroke-linejoin="round"/>
<text x="37.00" y="764.22" font-size="11.8" fill="#000" stroke="#000" stroke-width="0.3">0.8</text>
<text x="37.00" y="813.14" font-size="11.8" fill="#000" stroke="#000" stroke-width="0.3">0.6</text>
<text x="37.00" y="862.06" font-size="11.8" fill="#000" stroke="#000" stroke-width="0.3">0.4</text>
<text x="37.00" y="910.98" font-size="11.8" fill="#000" stroke="#000" stroke-width="0.3">0.2</text>
<text x="46.84" y="959.90" font-size="11.8" fill="#000" stroke="#000" stroke-width="0.3">0</text>
<text x="97.87" y="973.80" font-size="11.8" fill="#000" stroke="#000" stroke-width="0.3">25</text>
<text x="138.70" y="973.80" font-size="11.8" fill="#000" stroke="#000" stroke-width="0.3">75</text>
<polygon points="179.15,973.80 180.33,973.80 180.33,965.68 179.44,965.68 179.21,966.25 178.62,966.72 177.91,966.96 177.32,967.01 177.32,967.84 179.15,967.84" fill="#000" stroke="#000" stroke-width="0.3" stroke-linejoin="round"/><text x="182.82" y="973.80" font-size="11.8" fill="#000" stroke="#000" stroke-width="0.3">25</text>
<polygon points="219.98,973.80 221.16,973.80 221.16,965.68 220.28,965.68 220.04,966.25 219.45,966.72 218.74,966.96 218.15,967.01 218.15,967.84 219.98,967.84" fill="#000" stroke="#000" stroke-width="0.3" stroke-linejoin="round"/><text x="223.65" y="973.80" font-size="11.8" fill="#000" stroke="#000" stroke-width="0.3">75</text>
<text x="257.92" y="973.80" font-size="11.8" fill="#000" stroke="#000" stroke-width="0.3">225</text>
<text x="186.3" y="996.2" text-anchor="middle" font-size="15.6" fill="#000" stroke="#000" stroke-width="0.3">delay time : d [ms]</text>
<text transform="translate(26,833.5) rotate(-90)" x="0" y="0" text-anchor="middle" font-size="15.8" fill="#000" stroke="#000" stroke-width="0.3">accuracy</text>
<line x1="419.60" y1="711.65" x2="419.60" y2="959.15" stroke="#000" stroke-opacity="0.33" stroke-width="1.05"/>
<line x1="440.30" y1="711.65" x2="440.30" y2="959.15" stroke="#000" stroke-opacity="0.33" stroke-width="1.05"/>
<line x1="461.00" y1="711.65" x2="461.00" y2="959.15" stroke="#000" stroke-opacity="0.33" stroke-width="1.05"/>
<line x1="481.70" y1="711.65" x2="481.70" y2="959.15" stroke="#000" stroke-opacity="0.33" stroke-width="1.05"/>
<line x1="502.40" y1="711.65" x2="502.40" y2="959.15" stroke="#000" stroke-opacity="0.33" stroke-width="1.05"/>
<line x1="523.10" y1="711.65" x2="523.10" y2="959.15" stroke="#000" stroke-opacity="0.33" stroke-width="1.05"/>
<line x1="543.80" y1="711.65" x2="543.80" y2="959.15" stroke="#000" stroke-opacity="0.33" stroke-width="1.05"/>
<line x1="564.50" y1="711.65" x2="564.50" y2="959.15" stroke="#000" stroke-opacity="0.33" stroke-width="1.05"/>
<line x1="585.20" y1="711.65" x2="585.20" y2="959.15" stroke="#000" stroke-opacity="0.33" stroke-width="1.05"/>
<line x1="605.90" y1="711.65" x2="605.90" y2="959.15" stroke="#000" stroke-opacity="0.33" stroke-width="1.05"/>
<line x1="626.60" y1="711.65" x2="626.60" y2="959.15" stroke="#000" stroke-opacity="0.33" stroke-width="1.05"/>
<line x1="398.9" y1="736.40" x2="647.3" y2="736.40" stroke="#000" stroke-opacity="0.33" stroke-width="1.05"/>
<line x1="398.9" y1="761.15" x2="647.3" y2="761.15" stroke="#000" stroke-opacity="0.33" stroke-width="1.05"/>
<line x1="398.9" y1="785.90" x2="647.3" y2="785.90" stroke="#000" stroke-opacity="0.33" stroke-width="1.05"/>
<line x1="398.9" y1="810.65" x2="647.3" y2="810.65" stroke="#000" stroke-opacity="0.33" stroke-width="1.05"/>
<line x1="398.9" y1="835.40" x2="647.3" y2="835.40" stroke="#000" stroke-opacity="0.33" stroke-width="1.05"/>
<line x1="398.9" y1="860.15" x2="647.3" y2="860.15" stroke="#000" stroke-opacity="0.33" stroke-width="1.05"/>
<line x1="398.9" y1="884.90" x2="647.3" y2="884.90" stroke="#000" stroke-opacity="0.33" stroke-width="1.05"/>
<line x1="398.9" y1="909.65" x2="647.3" y2="909.65" stroke="#000" stroke-opacity="0.33" stroke-width="1.05"/>
<line x1="398.9" y1="934.40" x2="647.3" y2="934.40" stroke="#000" stroke-opacity="0.33" stroke-width="1.05"/>
<line x1="419.60" y1="742" x2="419.60" y2="780" stroke="#383838" stroke-width="1.3"/>
<line x1="417.00" y1="742" x2="422.20" y2="742" stroke="#383838" stroke-width="1.4"/>
<line x1="417.00" y1="780" x2="422.20" y2="780" stroke="#383838" stroke-width="1.4"/>
<line x1="440.30" y1="750.6" x2="440.30" y2="783.6" stroke="#383838" stroke-width="1.3"/>
<line x1="437.70" y1="750.6" x2="442.90" y2="750.6" stroke="#383838" stroke-width="1.4"/>
<line x1="437.70" y1="783.6" x2="442.90" y2="783.6" stroke="#383838" stroke-width="1.4"/>
<line x1="461.00" y1="757.6" x2="461.00" y2="789" stroke="#383838" stroke-width="1.3"/>
<line x1="458.40" y1="757.6" x2="463.60" y2="757.6" stroke="#383838" stroke-width="1.4"/>
<line x1="458.40" y1="789" x2="463.60" y2="789" stroke="#383838" stroke-width="1.4"/>
<line x1="481.70" y1="769.6" x2="481.70" y2="800" stroke="#383838" stroke-width="1.3"/>
<line x1="479.10" y1="769.6" x2="484.30" y2="769.6" stroke="#383838" stroke-width="1.4"/>
<line x1="479.10" y1="800" x2="484.30" y2="800" stroke="#383838" stroke-width="1.4"/>
<line x1="502.40" y1="789" x2="502.40" y2="810" stroke="#383838" stroke-width="1.3"/>
<line x1="499.80" y1="789" x2="505.00" y2="789" stroke="#383838" stroke-width="1.4"/>
<line x1="499.80" y1="810" x2="505.00" y2="810" stroke="#383838" stroke-width="1.4"/>
<line x1="523.10" y1="803.6" x2="523.10" y2="830.4" stroke="#383838" stroke-width="1.3"/>
<line x1="520.50" y1="803.6" x2="525.70" y2="803.6" stroke="#383838" stroke-width="1.4"/>
<line x1="520.50" y1="830.4" x2="525.70" y2="830.4" stroke="#383838" stroke-width="1.4"/>
<line x1="543.80" y1="824.4" x2="543.80" y2="845" stroke="#383838" stroke-width="1.3"/>
<line x1="541.20" y1="824.4" x2="546.40" y2="824.4" stroke="#383838" stroke-width="1.4"/>
<line x1="541.20" y1="845" x2="546.40" y2="845" stroke="#383838" stroke-width="1.4"/>
<line x1="564.50" y1="835.6" x2="564.50" y2="841" stroke="#383838" stroke-width="1.3"/>
<line x1="561.90" y1="835.6" x2="567.10" y2="835.6" stroke="#383838" stroke-width="1.4"/>
<line x1="561.90" y1="841" x2="567.10" y2="841" stroke="#383838" stroke-width="1.4"/>
<line x1="585.20" y1="838" x2="585.20" y2="841.5" stroke="#383838" stroke-width="1.3"/>
<line x1="582.60" y1="838" x2="587.80" y2="838" stroke="#383838" stroke-width="1.4"/>
<line x1="582.60" y1="841.5" x2="587.80" y2="841.5" stroke="#383838" stroke-width="1.4"/>
<line x1="605.90" y1="838.5" x2="605.90" y2="841.5" stroke="#383838" stroke-width="1.3"/>
<line x1="603.30" y1="838.5" x2="608.50" y2="838.5" stroke="#383838" stroke-width="1.4"/>
<line x1="603.30" y1="841.5" x2="608.50" y2="841.5" stroke="#383838" stroke-width="1.4"/>
<line x1="626.60" y1="837.5" x2="626.60" y2="840" stroke="#383838" stroke-width="1.3"/>
<line x1="624.00" y1="837.5" x2="629.20" y2="837.5" stroke="#383838" stroke-width="1.4"/>
<line x1="624.00" y1="840" x2="629.20" y2="840" stroke="#383838" stroke-width="1.4"/>
<polyline points="419.60,761.00 440.30,767.00 461.00,773.40 481.70,784.60 502.40,799.40 523.10,817.00 543.80,834.40 564.50,838.00 585.20,839.60 605.90,840.00 626.60,838.60" fill="none" stroke="#1a1a1a" stroke-width="1.35"/>
<circle cx="419.60" cy="761" r="3.25" fill="#000"/>
<circle cx="440.30" cy="767" r="3.25" fill="#000"/>
<circle cx="461.00" cy="773.4" r="3.25" fill="#000"/>
<circle cx="481.70" cy="784.6" r="3.25" fill="#000"/>
<circle cx="502.40" cy="799.4" r="3.25" fill="#000"/>
<circle cx="523.10" cy="817" r="3.25" fill="#000"/>
<circle cx="543.80" cy="834.4" r="3.25" fill="#000"/>
<circle cx="564.50" cy="838" r="3.25" fill="#000"/>
<circle cx="585.20" cy="839.6" r="3.25" fill="#000"/>
<circle cx="605.90" cy="840" r="3.25" fill="#000"/>
<circle cx="626.60" cy="838.6" r="3.25" fill="#000"/>
<rect x="398.9" y="711.65" width="248.40" height="247.50" fill="none" stroke="#000" stroke-width="2.6"/>
<polygon points="384.63,715.75 385.81,715.75 385.81,707.63 384.92,707.63 384.69,708.20 384.10,708.67 383.39,708.91 382.80,708.97 382.80,709.79 384.63,709.79" fill="#000" stroke="#000" stroke-width="0.3" stroke-linejoin="round"/>
<text x="371.90" y="765.25" font-size="11.8" fill="#000" stroke="#000" stroke-width="0.3">0.8</text>
<text x="371.90" y="814.75" font-size="11.8" fill="#000" stroke="#000" stroke-width="0.3">0.6</text>
<text x="371.90" y="864.25" font-size="11.8" fill="#000" stroke="#000" stroke-width="0.3">0.4</text>
<text x="371.90" y="913.75" font-size="11.8" fill="#000" stroke="#000" stroke-width="0.3">0.2</text>
<text x="381.74" y="963.25" font-size="11.8" fill="#000" stroke="#000" stroke-width="0.3">0</text>
<text x="433.74" y="977.60" font-size="11.8" fill="#000" stroke="#000" stroke-width="0.3">25</text>
<text x="475.14" y="977.60" font-size="11.8" fill="#000" stroke="#000" stroke-width="0.3">75</text>
<polygon points="516.15,977.60 517.33,977.60 517.33,969.48 516.44,969.48 516.21,970.05 515.62,970.52 514.91,970.76 514.32,970.82 514.32,971.64 516.15,971.64" fill="#000" stroke="#000" stroke-width="0.3" stroke-linejoin="round"/><text x="519.82" y="977.60" font-size="11.8" fill="#000" stroke="#000" stroke-width="0.3">25</text>
<polygon points="557.55,977.60 558.73,977.60 558.73,969.48 557.84,969.48 557.61,970.05 557.02,970.52 556.31,970.76 555.72,970.82 555.72,971.64 557.55,971.64" fill="#000" stroke="#000" stroke-width="0.3" stroke-linejoin="round"/><text x="561.22" y="977.60" font-size="11.8" fill="#000" stroke="#000" stroke-width="0.3">75</text>
<text x="596.06" y="977.60" font-size="11.8" fill="#000" stroke="#000" stroke-width="0.3">225</text>
<text x="531.9" y="998.6" text-anchor="middle" font-size="15.6" fill="#000" stroke="#000" stroke-width="0.3">delay time : d [ms]</text>
<text transform="translate(363.7,833.5) rotate(-90)" x="0" y="0" text-anchor="middle" font-size="15.8" fill="#000" stroke="#000" stroke-width="0.3">accuracy</text>
</g></svg></div></body></html>
